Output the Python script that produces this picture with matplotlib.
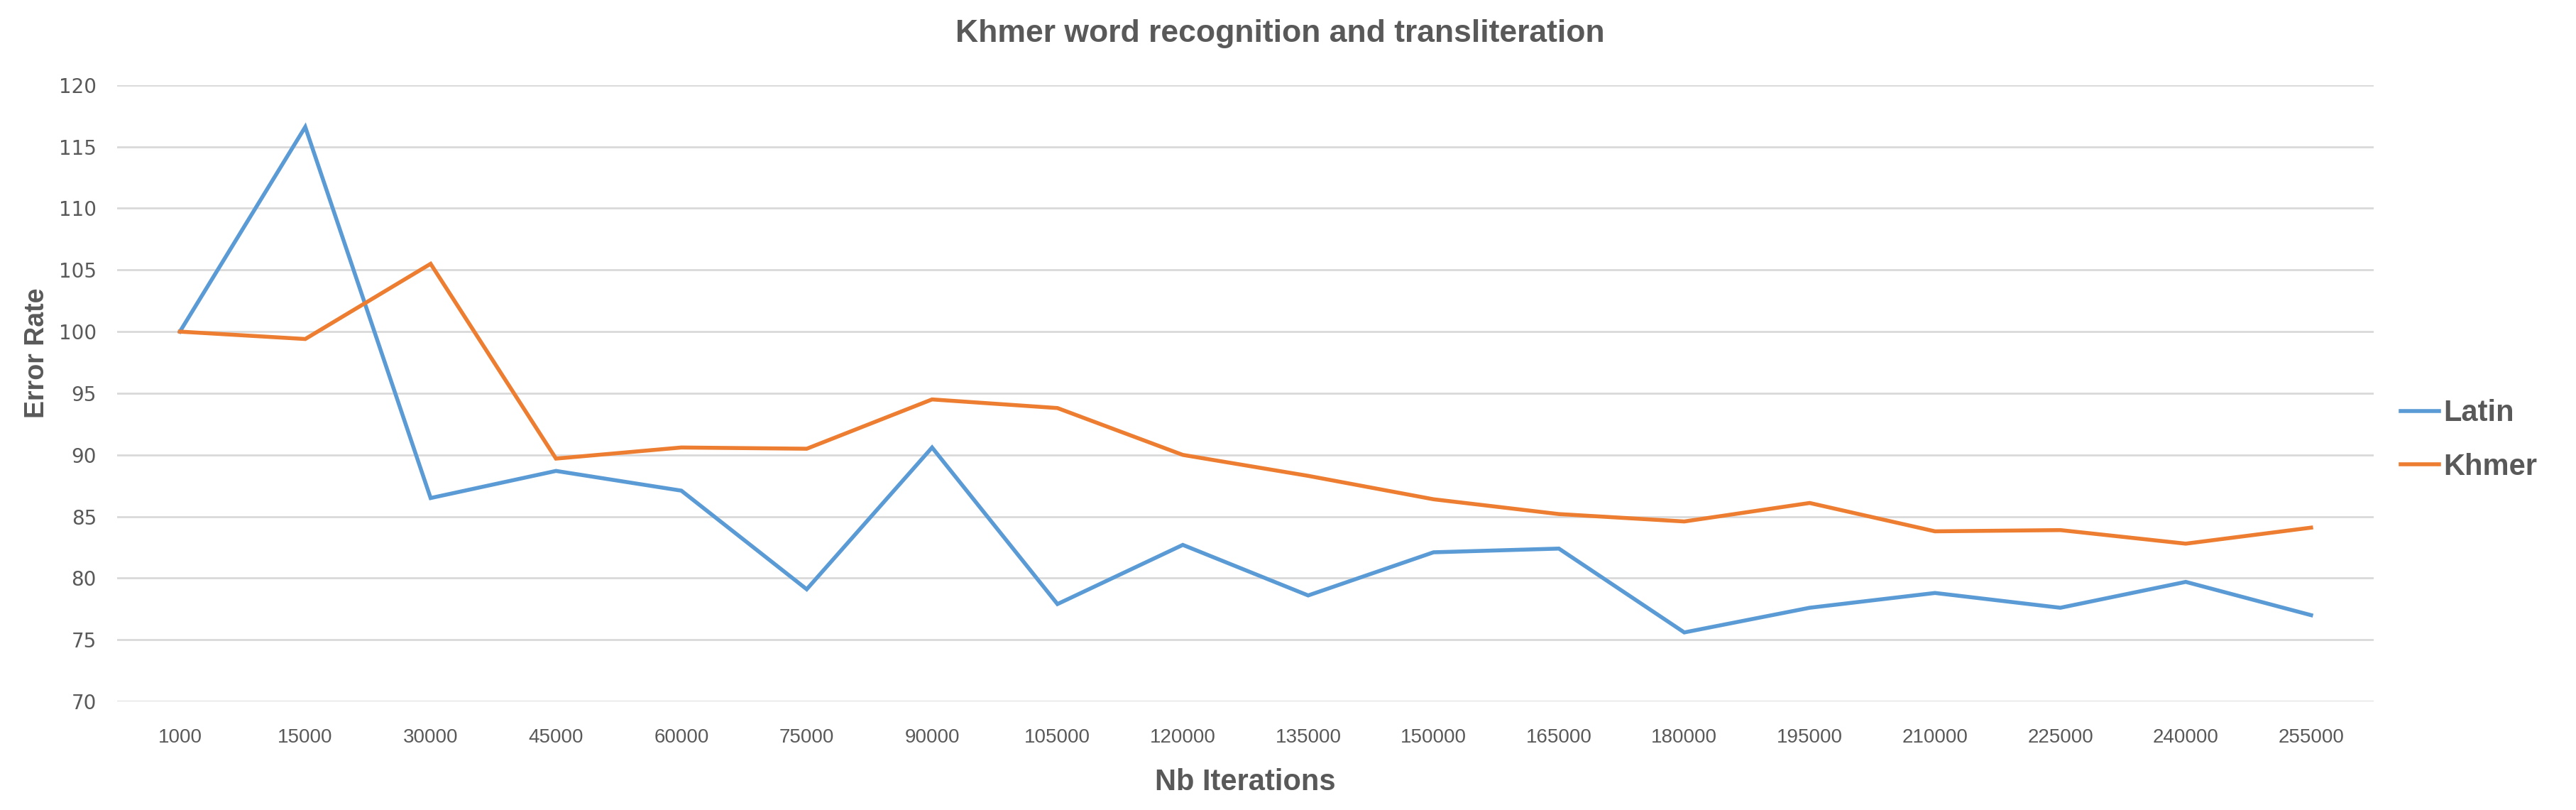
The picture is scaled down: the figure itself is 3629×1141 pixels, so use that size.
import matplotlib
matplotlib.use("Agg")
import matplotlib.pyplot as plt
from matplotlib import font_manager

# data
iterations = ["1000", "15000", "30000", "45000", "60000", "75000", "90000", "105000", "120000",
              "135000", "150000", "165000", "180000", "195000", "210000", "225000", "240000", "255000"]
latin = [100, 116.6, 86.5, 88.7, 87.1, 79.1, 90.6, 77.9, 82.7,
         78.6, 82.1, 82.4, 75.6, 77.6, 78.8, 77.6, 79.7, 77.0]
khmer = [100, 99.4, 105.5, 89.7, 90.6, 90.5, 94.5, 93.8, 90.0,
         88.3, 86.4, 85.2, 84.6, 86.1, 83.8, 83.9, 82.8, 84.1]
y_ticks = [70, 75, 80, 85, 90, 95, 100, 105, 110, 115, 120]

text_color = '#595959'
grid_color = '#D9D9D9'

installed = {f.name for f in font_manager.fontManager.ttflist}
narrow = 'Liberation Sans Narrow' if 'Liberation Sans Narrow' in installed else 'Liberation Sans'

fig = plt.figure(figsize=(36.29, 11.41), dpi=100)
ax = fig.add_axes([0.0455, 0.134, 0.876, 0.761])

x = list(range(len(iterations)))
ax.plot(x, latin, color='#5B9BD5', lw=4, solid_joinstyle='miter', label='Latin')
ax.plot(x, khmer, color='#ED7D31', lw=4, solid_joinstyle='miter', label='Khmer')

ax.set_xlim(-0.5, len(iterations) - 0.5)
ax.set_ylim(70, 120)
ax.set_yticks(y_ticks)
ax.set_xticks(x)
ax.set_xticklabels(iterations, family=narrow, fontsize=20, color=text_color)
for lbl in ax.get_yticklabels():
    lbl.set_family('DejaVu Sans')
    lbl.set_fontsize(20)
    lbl.set_color(text_color)

ax.grid(axis='y', color=grid_color, lw=2)
ax.set_axisbelow(True)
for s in ax.spines.values():
    s.set_visible(False)
ax.tick_params(axis='x', length=0, pad=27)
ax.tick_params(axis='y', length=0, pad=21)

# title is centred on the whole figure, not on the axes
fig.text(0.497, 0.958, 'Khmer word recognition and transliteration', family=narrow,
         fontweight='bold', fontsize=32, color=text_color, ha='center', va='center')
ax.set_xlabel('Nb Iterations', family=narrow, fontweight='bold', fontsize=30,
              color=text_color, labelpad=22)
ax.set_ylabel('Error Rate', family=narrow, fontweight='bold', fontsize=27,
              color=text_color)
ax.yaxis.set_label_coords(-0.030, 0.565)

leg = ax.legend(loc='center left', bbox_to_anchor=(1.0, 0.424), frameon=False,
                prop={'family': narrow, 'weight': 'bold', 'size': 30},
                handlelength=1.3, handletextpad=0.15, labelspacing=0.85)
for t in leg.get_texts():
    t.set_color(text_color)

plt.savefig('out.png', dpi=100, facecolor='white')
